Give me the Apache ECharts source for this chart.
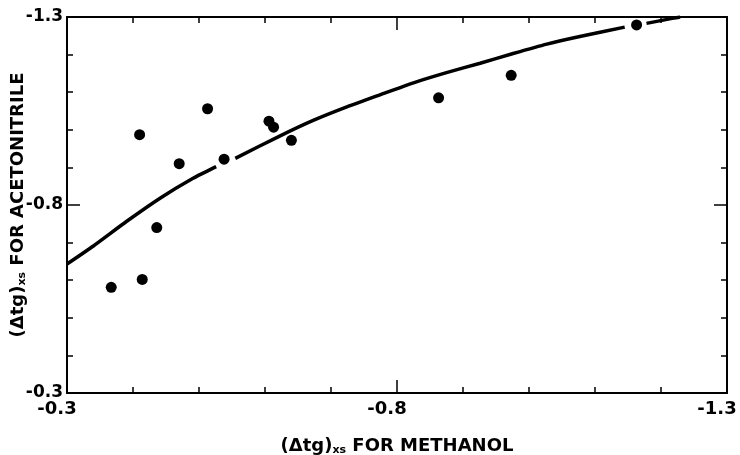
<!DOCTYPE html>
<html>
<head>
<meta charset="utf-8">
<script src="https://cdn.jsdelivr.net/npm/echarts@6/dist/echarts.min.js"></script>
<style>html,body{margin:0;padding:0;background:#fff;}#chart{width:740px;height:455px;}</style>
</head>
<body>
<div id="chart"></div>
<script>
// Scatter points: (Δtg)xs for methanol (x) vs acetonitrile (y)
const methanolX = [-0.367, -0.414, -0.436, -0.410, -0.470, -0.513, -0.538, -0.606, -0.613, -0.640, -0.863, -0.973, -1.163];
const acetonitrileY = [-0.581, -0.602, -0.740, -0.987, -0.910, -1.056, -0.922, -1.023, -1.007, -0.972, -1.085, -1.145, -1.279];

// Fitted curve (null marks a gap in the drawn line)
const curveX = [-0.300, -0.340, -0.390, -0.441, -0.491, -0.526, null,
                -0.555, -0.623, -0.673, -0.724, -0.774, -0.825, -0.875, -0.926, -0.976, -1.027, -1.077, -1.145, null,
                -1.178, -1.219, -1.229];
const curveY = [-0.643, -0.691, -0.756, -0.818, -0.871, -0.902, null,
                -0.924, -0.984, -1.025, -1.061, -1.093, -1.125, -1.152, -1.177, -1.203, -1.228, -1.248, -1.273, null,
                -1.283, -1.297, -1.300];

const axisMin = -1.3, axisMax = -0.3, majorStep = 0.5, minorSplits = 5;
const xTitle = '(Δtg){sub|xs} FOR METHANOL';
const yTitle = '(Δtg){sub|xs} FOR ACETONITRILE';

const FONT = 'DejaVu Sans';
const fmt = v => v.toFixed(1);
const richName = {
  sub: { fontSize: 11, fontWeight: 'bold', fontFamily: FONT, color: '#000', verticalAlign: 'bottom', padding: [8, 0, 0, 0] }
};
const lineStyle = { color: '#000', width: 2 };

function mkAxis(extra) {
  return Object.assign({
    type: 'value', min: axisMin, max: axisMax, interval: majorStep, inverse: true,
    axisLine: { show: true, onZero: false, lineStyle: lineStyle },
    axisTick: { show: true, inside: true, length: 13, lineStyle: { color: '#000', width: 1.5 } },
    minorTick: { show: true, splitNumber: minorSplits, length: 6, lineStyle: { color: '#000', width: 1.5 } },
    splitLine: { show: false },
    axisLabel: { show: false }
  }, extra);
}

const chart = echarts.init(document.getElementById('chart'), null, { renderer: 'canvas' });
chart.setOption({
  animation: false,
  backgroundColor: '#fff',
  grid: { left: 67, right: 13, top: 17, bottom: 62, containLabel: false, outerBoundsMode: 'none' },
  xAxis: [
    mkAxis({
      position: 'bottom',
      axisLabel: { show: true, formatter: fmt, color: '#000', fontFamily: FONT, fontWeight: 'bold', fontSize: 18, margin: 7, padding: [0, 20, 0, 0] },
      name: xTitle, nameLocation: 'middle', nameGap: 44, nameMoveOverlap: false,
      nameTextStyle: { color: '#000', fontFamily: FONT, fontWeight: 'bold', fontSize: 18, rich: richName }
    }),
    mkAxis({ position: 'top' })
  ],
  yAxis: [
    mkAxis({
      position: 'left',
      axisLabel: { show: true, formatter: fmt, color: '#000', fontFamily: FONT, fontWeight: 'bold', fontSize: 17, margin: 4 },
      name: yTitle, nameLocation: 'middle', nameGap: 39, nameRotate: 90, nameMoveOverlap: false,
      nameTextStyle: { color: '#000', fontFamily: FONT, fontWeight: 'bold', fontSize: 18, rich: richName }
    }),
    mkAxis({ position: 'right' })
  ],
  series: [
    {
      type: 'line', xAxisIndex: 0, yAxisIndex: 0,
      data: curveX.map((x, i) => x === null ? ['-', '-'] : [x, curveY[i]]),
      smooth: 0.2, connectNulls: false, showSymbol: false, symbol: 'none',
      lineStyle: { color: '#000', width: 3.5 }, z: 2
    },
    {
      type: 'scatter', xAxisIndex: 0, yAxisIndex: 0,
      data: methanolX.map((x, i) => [x, acetonitrileY[i]]),
      symbol: 'circle', symbolSize: 11,
      itemStyle: { color: '#000', opacity: 1 }, z: 3
    }
  ]
});
</script>
</body>
</html>
